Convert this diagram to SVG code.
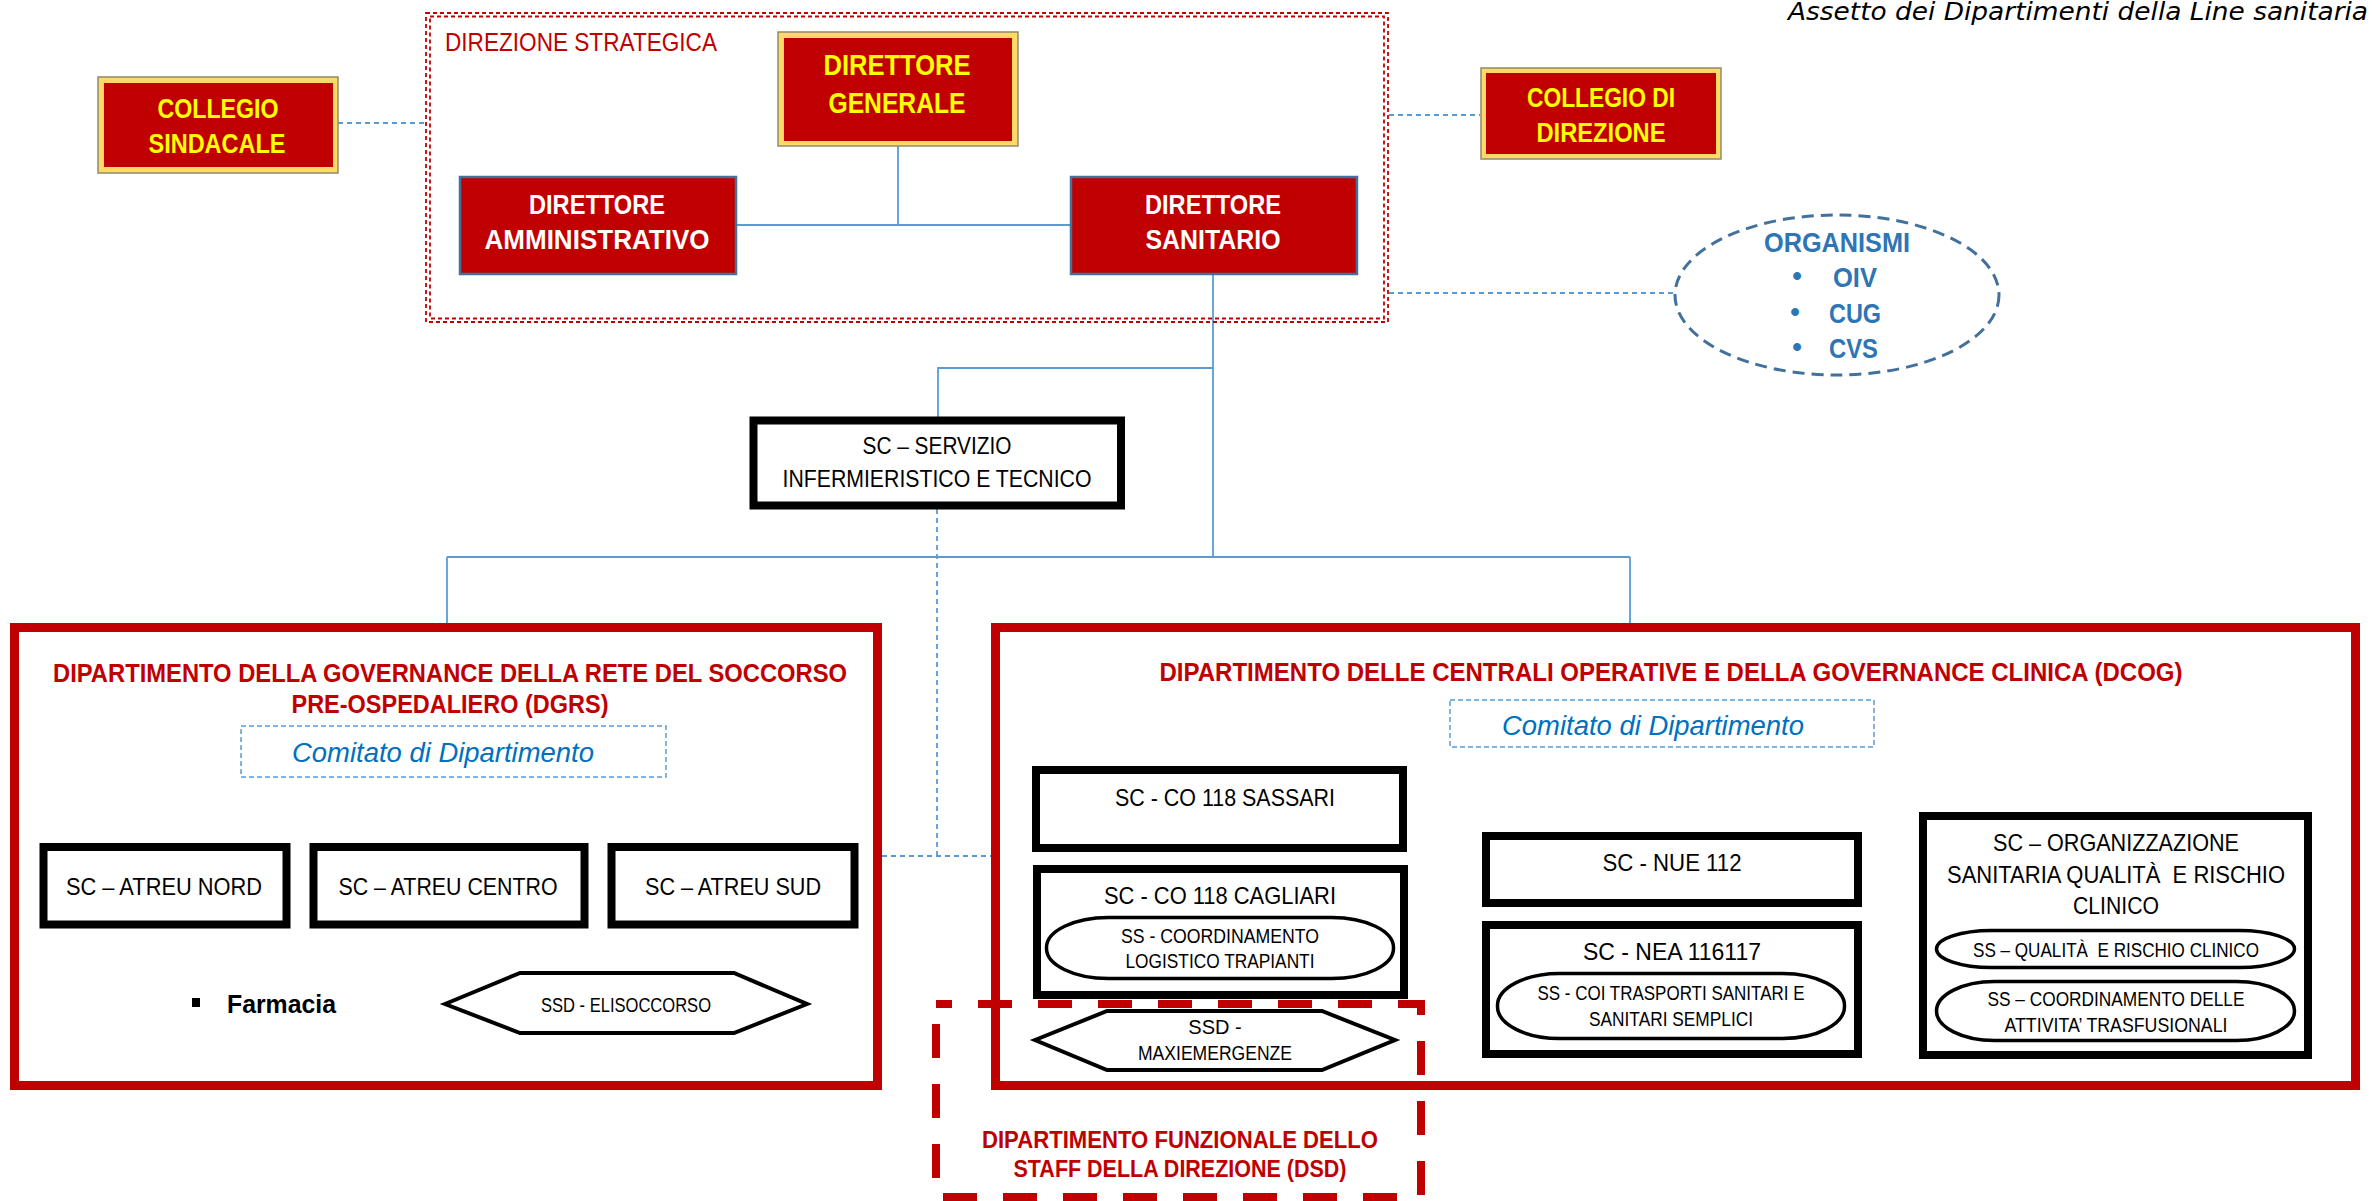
<svg xmlns="http://www.w3.org/2000/svg" width="2372" height="1201" viewBox="0 0 2372 1201">
<style>
text{font-family:"Liberation Sans",Arial,sans-serif;}
.t{text-anchor:middle;}
.yb{fill:#FFFF00;font-weight:bold;font-size:27px;}
.wb{fill:#FFFFFF;font-weight:bold;font-size:27.5px;}
.blk{fill:#000000;font-size:24.8px;}
.sm{fill:#000000;font-size:20px;}
.red{fill:#C00000;font-weight:bold;font-size:25.8px;}
.com{fill:#0070C0;font-style:italic;font-size:27px;}
.org{fill:#2E75B6;font-weight:bold;font-size:27.5px;}
.gold{fill:#FFD966;stroke:#8C8C6E;stroke-width:1.5;}
.gin{fill:#C00000;}
.dir{fill:#C00000;stroke:#41719C;stroke-width:2.5;}
.sc{fill:#FFFFFF;stroke:#000000;stroke-width:8;}
.pill{fill:#FFFFFF;stroke:#000000;stroke-width:3.5;}
.hex{fill:#FFFFFF;stroke:#000000;stroke-width:4;stroke-linejoin:miter;}
.dept{fill:none;stroke:#C00000;stroke-width:9;}
.ds{fill:none;stroke:#C00000;stroke-width:1.8;stroke-dasharray:4 3;}
.cbox{fill:none;stroke:#5B9BD5;stroke-width:1.5;stroke-dasharray:5 3;}
.ln{stroke:#5B9BD5;stroke-width:1.8;fill:none;}
.dl{stroke:#5B9BD5;stroke-width:1.8;fill:none;stroke-dasharray:5 4;}
</style>

<text x="1788" y="20" style="font-style:italic;font-size:24px;fill:#000000;font-family:'DejaVu Sans','Liberation Sans',sans-serif;" textLength="580" lengthAdjust="spacingAndGlyphs">Assetto dei Dipartimenti della Line sanitaria</text>

<g id="connectors">
  <line class="dl" x1="338" y1="123" x2="425" y2="123"/>
  <line class="dl" x1="1389" y1="115" x2="1480" y2="115"/>
  <line class="dl" x1="1389" y1="293" x2="1675" y2="293"/>
  <line class="dl" x1="937" y1="509" x2="937" y2="856"/>
  <line class="dl" x1="882" y1="856" x2="991" y2="856"/>
  <line class="ln" x1="898" y1="146" x2="898" y2="225"/>
  <line class="ln" x1="736" y1="225" x2="1071" y2="225"/>
  <line class="ln" x1="1213" y1="274" x2="1213" y2="557"/>
  <polyline class="ln" points="1213,368 938,368 938,417"/>
  <line class="ln" x1="447" y1="557" x2="1630" y2="557"/>
  <line class="ln" x1="447" y1="557" x2="447" y2="623"/>
  <line class="ln" x1="1630" y1="557" x2="1630" y2="623"/>
</g>

<g id="direzione-strategica">
  <rect class="ds" x="426" y="13" width="962" height="309"/>
  <rect class="ds" x="430" y="16.5" width="954" height="302"/>
  <text x="445" y="51" style="fill:#C00000;font-size:26px;" textLength="272" lengthAdjust="spacingAndGlyphs">DIREZIONE STRATEGICA</text>
</g>

<g id="collegio-sindacale">
  <rect class="gold" x="98" y="77" width="240" height="96"/>
  <rect class="gin" x="104" y="83" width="229" height="84"/>
  <text class="t yb" x="218" y="118" textLength="121" lengthAdjust="spacingAndGlyphs">COLLEGIO</text>
  <text class="t yb" x="217" y="153" textLength="137" lengthAdjust="spacingAndGlyphs">SINDACALE</text>
</g>

<g id="direttore-generale">
  <rect class="gold" x="778" y="32" width="240" height="114"/>
  <rect class="gin" x="784" y="38" width="228" height="103"/>
  <text class="t yb" x="897" y="75" style="font-size:29.5px" textLength="147" lengthAdjust="spacingAndGlyphs">DIRETTORE</text>
  <text class="t yb" x="897" y="113" style="font-size:29.5px" textLength="137" lengthAdjust="spacingAndGlyphs">GENERALE</text>
</g>

<g id="collegio-direzione">
  <rect class="gold" x="1481" y="68" width="240" height="91"/>
  <rect class="gin" x="1486" y="73" width="230" height="81"/>
  <text class="t yb" x="1601" y="107" textLength="148" lengthAdjust="spacingAndGlyphs">COLLEGIO DI</text>
  <text class="t yb" x="1601" y="142" textLength="129" lengthAdjust="spacingAndGlyphs">DIREZIONE</text>
</g>

<g id="direttore-amministrativo">
  <rect class="dir" x="460" y="177" width="276" height="97"/>
  <text class="t wb" x="597" y="214" textLength="136" lengthAdjust="spacingAndGlyphs">DIRETTORE</text>
  <text class="t wb" x="597" y="249" textLength="225" lengthAdjust="spacingAndGlyphs">AMMINISTRATIVO</text>
</g>

<g id="direttore-sanitario">
  <rect class="dir" x="1071" y="177" width="286" height="97"/>
  <text class="t wb" x="1213" y="214" textLength="136" lengthAdjust="spacingAndGlyphs">DIRETTORE</text>
  <text class="t wb" x="1213" y="249" textLength="135" lengthAdjust="spacingAndGlyphs">SANITARIO</text>
</g>

<g id="organismi">
  <ellipse cx="1837" cy="295" rx="162" ry="80" fill="#FFFFFF" stroke="#41719C" stroke-width="3" stroke-dasharray="12 7"/>
  <text class="t org" x="1837" y="252" textLength="146" lengthAdjust="spacingAndGlyphs">ORGANISMI</text>
  <text class="t org" x="1797" y="285">•</text>
  <text class="org" x="1833" y="287" textLength="44" lengthAdjust="spacingAndGlyphs">OIV</text>
  <text class="t org" x="1795" y="321">•</text>
  <text class="org" x="1829" y="323" textLength="52" lengthAdjust="spacingAndGlyphs">CUG</text>
  <text class="t org" x="1797" y="356">•</text>
  <text class="org" x="1829" y="358" textLength="49" lengthAdjust="spacingAndGlyphs">CVS</text>
</g>

<g id="sc-servizio">
  <rect class="sc" x="753.5" y="420.5" width="367.5" height="85"/>
  <text class="t blk" x="937" y="454" textLength="149" lengthAdjust="spacingAndGlyphs">SC – SERVIZIO</text>
  <text class="t blk" x="937" y="487" textLength="309" lengthAdjust="spacingAndGlyphs">INFERMIERISTICO E TECNICO</text>
</g>

<g id="dgrs">
  <rect class="dept" x="14.5" y="627.5" width="863" height="458"/>
  <text class="t red" x="450" y="682" textLength="794" lengthAdjust="spacingAndGlyphs">DIPARTIMENTO DELLA GOVERNANCE DELLA RETE DEL SOCCORSO</text>
  <text class="t red" x="450" y="713" textLength="317" lengthAdjust="spacingAndGlyphs">PRE-OSPEDALIERO (DGRS)</text>
</g>
<g id="dgrs-comitato">
  <rect class="cbox" x="241" y="726" width="425" height="51"/>
  <text class="t com" x="443" y="762" textLength="302" lengthAdjust="spacingAndGlyphs">Comitato di Dipartimento</text>
</g>
<g id="atreu-nord">
  <rect class="sc" x="43.5" y="847" width="243" height="77.5"/>
  <text class="t blk" x="164" y="895" textLength="196" lengthAdjust="spacingAndGlyphs">SC – ATREU NORD</text>
</g>
<g id="atreu-centro">
  <rect class="sc" x="313.5" y="847" width="271" height="77.5"/>
  <text class="t blk" x="448" y="895" textLength="219" lengthAdjust="spacingAndGlyphs">SC – ATREU CENTRO</text>
</g>
<g id="atreu-sud">
  <rect class="sc" x="611.5" y="847" width="243" height="77.5"/>
  <text class="t blk" x="733" y="895" textLength="176" lengthAdjust="spacingAndGlyphs">SC – ATREU SUD</text>
</g>
<g id="farmacia">
  <rect x="192" y="998" width="8" height="9" fill="#000000"/>
  <text x="227" y="1013" style="fill:#000000;font-weight:bold;font-size:26.5px;" textLength="109" lengthAdjust="spacingAndGlyphs">Farmacia</text>
</g>
<g id="ssd-elisoccorso">
  <polygon class="hex" points="445,1004 520,973 734,973 807,1004 734,1033 520,1033"/>
  <text class="t sm" x="626" y="1012" textLength="170" lengthAdjust="spacingAndGlyphs">SSD - ELISOCCORSO</text>
</g>

<g id="dcog">
  <rect class="dept" x="995.5" y="627.5" width="1360" height="458"/>
  <text class="t red" x="1671" y="681" textLength="1023" lengthAdjust="spacingAndGlyphs">DIPARTIMENTO DELLE CENTRALI OPERATIVE E DELLA GOVERNANCE CLINICA (DCOG)</text>
</g>
<g id="dcog-comitato">
  <rect class="cbox" x="1450" y="700" width="424" height="47"/>
  <text class="t com" x="1653" y="735" textLength="302" lengthAdjust="spacingAndGlyphs">Comitato di Dipartimento</text>
</g>
<g id="co118-sassari">
  <rect class="sc" x="1036" y="770" width="367" height="78"/>
  <text class="t blk" x="1225" y="806" textLength="220" lengthAdjust="spacingAndGlyphs">SC - CO 118 SASSARI</text>
</g>
<g id="co118-cagliari">
  <rect class="sc" x="1037" y="869" width="367" height="126"/>
  <text class="t blk" x="1220" y="904" textLength="232" lengthAdjust="spacingAndGlyphs">SC - CO 118 CAGLIARI</text>
  <rect class="pill" x="1046.5" y="917.5" width="347" height="61" rx="62" ry="30"/>
  <text class="t sm" x="1220" y="943" textLength="198" lengthAdjust="spacingAndGlyphs">SS - COORDINAMENTO</text>
  <text class="t sm" x="1220" y="968" textLength="189" lengthAdjust="spacingAndGlyphs">LOGISTICO TRAPIANTI</text>
</g>
<g id="ssd-maxiemergenze">
  <polygon class="hex" points="1035,1040 1107,1011 1322,1011 1395,1040 1322,1070 1107,1070"/>
  <text class="t sm" x="1215" y="1034">SSD -</text>
  <text class="t sm" x="1215" y="1060" textLength="154" lengthAdjust="spacingAndGlyphs">MAXIEMERGENZE</text>
</g>
<g id="nue112">
  <rect class="sc" x="1486" y="836" width="372" height="67"/>
  <text class="t blk" x="1672" y="871" textLength="139" lengthAdjust="spacingAndGlyphs">SC - NUE 112</text>
</g>
<g id="nea116117">
  <rect class="sc" x="1486" y="925" width="372" height="129"/>
  <text class="t blk" x="1672" y="960" textLength="178" lengthAdjust="spacingAndGlyphs">SC - NEA 116117</text>
  <rect class="pill" x="1497.5" y="973.5" width="347" height="65" rx="62" ry="32"/>
  <text class="t sm" x="1671" y="1000" textLength="267" lengthAdjust="spacingAndGlyphs">SS - COI TRASPORTI SANITARI E</text>
  <text class="t sm" x="1671" y="1026" textLength="164" lengthAdjust="spacingAndGlyphs">SANITARI SEMPLICI</text>
</g>
<g id="organizzazione-sanitaria">
  <rect class="sc" x="1923" y="816" width="385" height="239"/>
  <text class="t blk" x="2116" y="851" textLength="246" lengthAdjust="spacingAndGlyphs">SC – ORGANIZZAZIONE</text>
  <text class="t blk" x="2116" y="883" xml:space="preserve" textLength="338" lengthAdjust="spacingAndGlyphs">SANITARIA QUALITÀ  E RISCHIO</text>
  <text class="t blk" x="2116" y="914" textLength="86" lengthAdjust="spacingAndGlyphs">CLINICO</text>
  <rect class="pill" x="1936.5" y="930.5" width="358" height="37" rx="55" ry="18.5"/>
  <text class="t sm" x="2116" y="957" xml:space="preserve" textLength="286" lengthAdjust="spacingAndGlyphs">SS – QUALITÀ  E RISCHIO CLINICO</text>
  <rect class="pill" x="1936.5" y="981.5" width="358" height="59" rx="58" ry="29.5"/>
  <text class="t sm" x="2116" y="1006" textLength="257" lengthAdjust="spacingAndGlyphs">SS – COORDINAMENTO DELLE</text>
  <text class="t sm" x="2116" y="1032" textLength="223" lengthAdjust="spacingAndGlyphs">ATTIVITA’ TRASFUSIONALI</text>
</g>

<g id="dsd">
  <rect x="936" y="1004" width="485" height="193" fill="none" stroke="#C00000" stroke-width="8" stroke-dasharray="34 26" stroke-dashoffset="18"/>
  <text class="t red" x="1180" y="1148" style="font-size:23px" textLength="396" lengthAdjust="spacingAndGlyphs">DIPARTIMENTO FUNZIONALE DELLO</text>
  <text class="t red" x="1180" y="1177" style="font-size:23px" textLength="333" lengthAdjust="spacingAndGlyphs">STAFF DELLA DIREZIONE (DSD)</text>
</g>
</svg>
